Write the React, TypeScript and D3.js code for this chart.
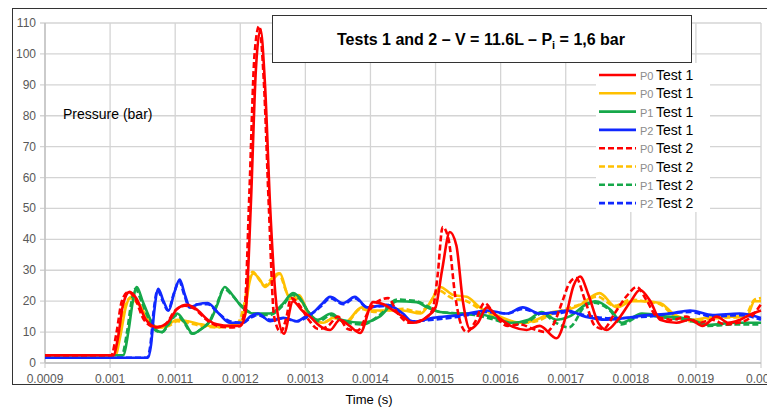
// Pressure vs time chart for tests 1 and 2, drawn with d3 into an svg
import React, { useRef, useEffect } from 'react';
import * as d3 from 'd3';

// tick values and labels
const yTicks = [0, 10, 20, 30, 40, 50, 60, 70, 80, 90, 100, 110];
const xTicks = [0.0009, 0.001, 0.0011, 0.0012, 0.0013, 0.0014, 0.0015, 0.0016, 0.0017, 0.0018, 0.0019, 0.002];
const xTickLabels = ['0.0009', '0.001', '0.0011', '0.0012', '0.0013', '0.0014', '0.0015', '0.0016', '0.0017', '0.0018', '0.0019', '0.002'];

// series: [time in microseconds, pressure in bar]
const p0Test1 = [[900,2.5],[1005,2.5],[1012,8],[1020,19],[1030,23],[1040,21],[1055,14],[1072,11.6],[1088,13],[1103,17.5],[1118,18.8],[1135,17],[1150,14],[1164,12.5],[1185,12],[1200,12],[1208,16],[1216,50],[1224,95],[1231,108],[1238,90],[1246,50],[1256,18],[1267,9.5],[1281,20],[1295,17],[1307,15],[1322,12],[1338,10.7],[1353,14],[1368,12],[1384,9.7],[1404,19.7],[1420,19],[1435,17],[1450,15],[1465,13],[1487,15],[1500,18],[1510,30],[1522,42.4],[1532,38],[1542,20],[1553,11],[1565,13],[1579,18],[1595,15],[1619,11.7],[1640,10.7],[1660,12],[1686,8],[1700,15],[1712,25],[1722,28],[1735,22],[1750,13],[1763,10.7],[1780,14],[1800,20],[1814,23.6],[1830,20],[1845,14],[1870,13],[1891,14],[1910,12],[1932,15],[1950,13],[1968,14],[1987,16],[2000,17]];
const p0bTest1 = [[900,2.5],[1008,2.5],[1016,9],[1024,18],[1033,21.5],[1045,19],[1060,13.5],[1077,11.5],[1090,12.5],[1103,14],[1120,13.5],[1140,12.5],[1164,11.7],[1185,12],[1200,13],[1208,18],[1214,26],[1220,29],[1230,27],[1238,24.6],[1250,27],[1261,29],[1273,22],[1281,21],[1290,22],[1303,17],[1327,13],[1347,15],[1360,13],[1387,18],[1403,17],[1427,17],[1450,17],[1477,16],[1493,20],[1507,24.6],[1527,22],[1548,21.4],[1568,18],[1599,15],[1630,13],[1655,14],[1680,16.5],[1700,17],[1722,18.8],[1752,22.6],[1778,18],[1802,20],[1820,20],[1845,19.4],[1865,16],[1891,14],[1932,15],[1978,15],[1990,20],[2000,20]];
const p1Test1 = [[900,2.5],[1020,2.5],[1028,10],[1035,20],[1041,24.6],[1050,20],[1062,14],[1072,10.5],[1080,10],[1090,13],[1103,16],[1115,13],[1127,9.5],[1140,11],[1155,14],[1165,19],[1176,24.6],[1188,22],[1203,18],[1220,16],[1245,16],[1265,19],[1281,22.6],[1295,20],[1303,17],[1319,14],[1340,16],[1355,14],[1388,13],[1414,15],[1441,20],[1471,19.7],[1487,18],[1507,16.5],[1540,16],[1560,16],[1591,14.6],[1617,13],[1643,14],[1663,16.5],[1685,14],[1705,15],[1735,19.4],[1745,20],[1770,17],[1786,13],[1817,16],[1857,15],[1894,14],[1919,12.3],[1960,13],[2000,13]];
const p2Test1 = [[900,1.7],[1058,1.7],[1063,6],[1068,17],[1074,24],[1082,20],[1090,17],[1099,23],[1107,27],[1115,22],[1123,18],[1135,19],[1150,19.4],[1167,16],[1184,13],[1204,13],[1215,15],[1227,16],[1246,13.5],[1266,14.6],[1287,13.5],[1300,15],[1310,16],[1325,19],[1338,21.4],[1358,19.4],[1376,21.4],[1395,18],[1425,18.8],[1450,16],[1465,13.3],[1496,14.6],[1537,15.5],[1579,17],[1610,16],[1634,18],[1660,16],[1686,16.5],[1702,17],[1730,15],[1763,14],[1825,15.5],[1860,16],[1891,17],[1926,15.5],[1967,16],[2000,14.6]];
const p0Test2 = [[900,2.5],[1002,2.5],[1010,10],[1018,20],[1028,23],[1038,21],[1052,14],[1070,11.5],[1085,12.5],[1100,17],[1115,18.5],[1130,17.5],[1148,14],[1165,12],[1185,11.5],[1200,12],[1207,18],[1214,55],[1222,100],[1229,109],[1236,92],[1244,50],[1252,15],[1262,10],[1270,14],[1278,21],[1290,19],[1305,14],[1320,11],[1335,12],[1350,15],[1365,11],[1380,10.5],[1398,17],[1412,20],[1427,21],[1442,16],[1460,13],[1480,14],[1495,17],[1503,28],[1511,44],[1520,40],[1530,22],[1540,12],[1548,10],[1560,13],[1575,19.4],[1590,16],[1610,12],[1630,12.5],[1650,11],[1670,10],[1680,12],[1695,20],[1706,26],[1716,27.5],[1730,20],[1745,12],[1758,11],[1775,16],[1795,22],[1809,24.6],[1825,20],[1840,15],[1865,14],[1885,15],[1905,13],[1925,14],[1945,12.5],[1965,13],[1985,15],[2000,19]];
const p0bTest2 = [[900,2.5],[1006,2.5],[1014,10],[1022,18],[1031,21],[1043,19],[1058,13.5],[1075,11.5],[1090,12],[1103,13.5],[1120,13],[1140,12],[1164,11.5],[1185,12],[1198,13.5],[1206,19],[1213,27],[1219,29.5],[1229,27],[1237,25],[1249,27.5],[1259,29],[1271,23],[1280,20],[1290,21],[1303,16.5],[1325,13],[1345,14.5],[1362,13],[1385,17.5],[1405,16.5],[1427,17],[1450,17.5],[1475,16.5],[1490,19],[1504,23.5],[1525,21],[1548,20],[1568,17.5],[1600,14.5],[1630,13],[1655,13.5],[1680,16],[1700,17.5],[1722,19],[1748,21.5],[1775,18.5],[1800,20.5],[1820,20],[1845,19],[1865,15.5],[1891,13.5],[1932,14.5],[1975,15],[1990,20.5],[2000,21]];
const p1Test2 = [[900,2.5],[1018,2.5],[1026,10],[1033,20],[1039,24],[1048,20],[1060,14],[1070,10.5],[1080,10],[1090,12.5],[1102,15.5],[1114,13],[1126,9.5],[1140,11],[1154,14],[1164,19],[1175,24],[1187,22],[1202,18.5],[1220,16],[1245,15.5],[1265,18.5],[1280,22],[1294,20],[1303,17],[1320,13.5],[1340,15.5],[1357,13.5],[1388,12.5],[1414,15.5],[1441,20.5],[1471,20],[1487,18.5],[1507,16.5],[1540,16],[1560,15.5],[1591,14],[1617,12.5],[1643,13.5],[1663,16],[1685,13],[1705,11.5],[1730,18.5],[1742,19.5],[1768,17],[1786,12.5],[1817,15.5],[1857,14.5],[1894,13.5],[1919,12],[1960,12.5],[2000,12.5]];
const p2Test2 = [[900,1.7],[1057,1.7],[1062,6],[1067,17],[1073,23.5],[1081,20],[1089,17],[1098,22.5],[1106,26.5],[1114,22],[1122,18],[1134,19],[1150,19],[1167,16],[1184,13.5],[1204,13],[1215,14.5],[1227,15.5],[1246,14],[1266,14.5],[1287,13.5],[1300,14.5],[1310,16],[1325,18.5],[1338,21],[1358,19],[1376,21],[1395,18],[1425,18.5],[1450,15.5],[1465,13.5],[1496,14],[1537,15],[1579,16.5],[1610,16],[1634,17.5],[1660,16],[1686,16],[1702,16.5],[1730,15.5],[1763,14.5],[1825,15],[1860,16],[1891,16.5],[1926,15],[1967,15.5],[2000,14]];

// legend order
const seriesData = [p0Test1, p0bTest1, p1Test1, p2Test1, p0Test2, p0bTest2, p1Test2, p2Test2];
const seriesProbe = ['P0', 'P0', 'P1', 'P2', 'P0', 'P0', 'P1', 'P2'];
const seriesTest = ['Test 1', 'Test 1', 'Test 1', 'Test 1', 'Test 2', 'Test 2', 'Test 2', 'Test 2'];
const seriesColor = ['#ff0000', '#ffc000', '#16a84a', '#1028ff', '#ff0000', '#ffc000', '#16a84a', '#1028ff'];
const seriesDashed = [false, false, false, false, true, true, true, true];
// drawing order (index into the arrays above), red on top
const drawOrder = [5, 1, 6, 2, 7, 3, 4, 0];

function App() {
  const ref = useRef(null);
  const width = 767;
  const height = 410;
  const plot = { left: 45, right: 761, top: 23, bottom: 363 };

  useEffect(() => {
    const svg = d3.select(ref.current);
    svg.selectAll('*').remove();

    const x = d3.scaleLinear().domain([0.0009, 0.002]).range([plot.left, plot.right]);
    const y = d3.scaleLinear().domain([0, 110]).range([plot.bottom, plot.top]);

    svg.append('rect')
      .attr('width', width).attr('height', height).attr('fill', '#fff');

    // outer frame
    svg.append('rect')
      .attr('x', 12.5).attr('y', 8.5)
      .attr('width', 770).attr('height', 376)
      .attr('fill', 'none').attr('stroke', '#333').attr('stroke-width', 1);

    const grid = svg.append('g').attr('stroke', '#d4d4d4').attr('stroke-width', 1.3);
    grid.selectAll('.hg').data(yTicks).enter().append('line')
      .attr('x1', plot.left - 5).attr('x2', plot.right)
      .attr('y1', d => y(d)).attr('y2', d => y(d));
    grid.selectAll('.vg').data(xTicks).enter().append('line')
      .attr('x1', d => x(d)).attr('x2', d => x(d))
      .attr('y1', plot.top).attr('y2', plot.bottom + 5);

    // axis lines
    svg.append('line')
      .attr('x1', plot.left).attr('x2', plot.right)
      .attr('y1', plot.bottom).attr('y2', plot.bottom)
      .attr('stroke', '#bfbfbf').attr('stroke-width', 1.3);
    svg.append('line')
      .attr('x1', plot.left).attr('x2', plot.left)
      .attr('y1', plot.top).attr('y2', plot.bottom)
      .attr('stroke', '#bfbfbf').attr('stroke-width', 1.3);

    svg.selectAll('.yl').data(yTicks).enter().append('text')
      .attr('x', 36).attr('y', d => y(d) + 4)
      .attr('text-anchor', 'end')
      .style('font-family', 'Liberation Sans, Arial, sans-serif')
      .style('font-size', '12px').style('fill', '#595959')
      .text(d => d);

    svg.selectAll('.xl').data(xTicks).enter().append('text')
      .attr('x', d => x(d)).attr('y', 383)
      .attr('text-anchor', 'middle')
      .style('font-family', 'Liberation Sans, Arial, sans-serif')
      .style('font-size', '12px').style('fill', '#595959')
      .text((d, i) => xTickLabels[i]);

    const line = d3.line()
      .x(d => x(d[0] * 1e-6))
      .y(d => y(d[1]))
      .curve(d3.curveMonotoneX);

    drawOrder.forEach(i => {
      svg.append('path')
        .attr('d', line(seriesData[i]))
        .attr('fill', 'none')
        .attr('stroke', seriesColor[i])
        .attr('stroke-width', 2.6)
        .attr('stroke-linejoin', 'round')
        .attr('stroke-dasharray', seriesDashed[i] ? '6,3' : null);
    });

    svg.append('text')
      .attr('x', 63).attr('y', 119)
      .style('font-family', 'Liberation Sans, Arial, sans-serif')
      .style('font-size', '14px').style('fill', '#000')
      .text('Pressure (bar)');

    svg.append('text')
      .attr('x', 369).attr('y', 404)
      .attr('text-anchor', 'middle')
      .style('font-family', 'Liberation Sans, Arial, sans-serif')
      .style('font-size', '13px').style('fill', '#000')
      .text('Time (s)');

    // title box
    svg.append('rect')
      .attr('x', 272.5).attr('y', 15.5)
      .attr('width', 419).attr('height', 47)
      .attr('fill', '#fff').attr('stroke', '#333').attr('stroke-width', 1);
    const title = svg.append('text')
      .attr('x', 481).attr('y', 45)
      .attr('text-anchor', 'middle')
      .style('font-family', 'Liberation Sans, Arial, sans-serif')
      .style('font-size', '16px').style('font-weight', 'bold').style('fill', '#000');
    title.append('tspan').text('Tests 1 and 2 – V = 11.6L – P');
    title.append('tspan').attr('dy', 4).style('font-size', '11px').text('i');
    title.append('tspan').attr('dy', -4).text(' = 1,6 bar');

    // legend
    const legend = svg.append('g');
    legend.append('rect')
      .attr('x', 596).attr('y', 63).attr('width', 114).attr('height', 149)
      .attr('fill', '#fff');
    seriesData.forEach((s, i) => {
      const cy = 75 + i * 18.3;
      legend.append('line')
        .attr('x1', 599).attr('x2', 636)
        .attr('y1', cy).attr('y2', cy)
        .attr('stroke', seriesColor[i]).attr('stroke-width', 2.6)
        .attr('stroke-dasharray', seriesDashed[i] ? '6,3' : null);
      legend.append('text')
        .attr('x', 640).attr('y', cy + 5)
        .style('font-family', 'Liberation Sans, Arial, sans-serif')
        .style('font-size', '11px').style('fill', '#8c8c8c')
        .text(seriesProbe[i]);
      legend.append('text')
        .attr('x', 656).attr('y', cy + 5)
        .style('font-family', 'Liberation Sans, Arial, sans-serif')
        .style('font-size', '14px').style('fill', '#000')
        .text(seriesTest[i]);
    });
  }, []);

  return <svg ref={ref} width={width} height={height} style={{ position: 'absolute', left: 0, top: 0 }} />;
}

export default App;
